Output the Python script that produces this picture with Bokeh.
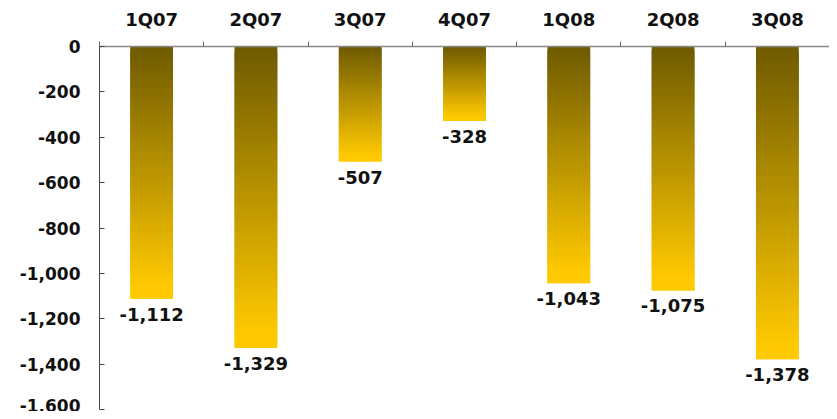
import numpy as np
from bokeh.plotting import figure
from bokeh.models import FixedTicker, NumeralTickFormatter, Range1d, ColumnDataSource
from bokeh.core.properties import value
from bokeh.embed import file_html
from bokeh.resources import INLINE

categories = ["1Q07", "2Q07", "3Q07", "4Q07", "1Q08", "2Q08", "3Q08"]
values = [-1112, -1329, -507, -328, -1043, -1075, -1378]
value_labels = ["-1,112", "-1,329", "-507", "-328", "-1,043", "-1,075", "-1,378"]
y_ticks = [0, -200, -400, -600, -800, -1000, -1200, -1400, -1600]

top_color = np.array([0x6e, 0x5a, 0x00])
bottom_color = np.array([0xff, 0xc9, 0x00])
FONT = "DejaVu Sans"
N = 60
bar_w = 0.41

p = figure(width=829, height=411, output_backend="svg", toolbar_location=None,
           x_range=Range1d(0, len(categories)), y_range=Range1d(-1600, 0),
           x_axis_location="above", min_border_left=99, min_border_right=0,
           min_border_top=46, min_border_bottom=2)
p.outline_line_color = None
p.grid.visible = False

# gradient bars built from thin overlapping strips
lefts, rights, tops, bottoms, colors = [], [], [], [], []
for i, v in enumerate(values):
    cx = i + 0.5
    for k in range(N):
        c = top_color + (bottom_color - top_color) * min(1.0, (k + 0.5) / N * 1.05)
        lefts.append(cx - bar_w / 2)
        rights.append(cx + bar_w / 2)
        tops.append(v * k / N)
        bottoms.append(v * min(k + 2.0, N) / N)
        colors.append("#%02x%02x%02x" % tuple(int(round(x)) for x in c))
src = ColumnDataSource(dict(left=lefts, right=rights, top=tops, bottom=bottoms, color=colors))
p.quad(left="left", right="right", top="top", bottom="bottom", fill_color="color",
       line_color=None, source=src)

lsrc = ColumnDataSource(dict(x=[i + 0.5 for i in range(len(values))], y=values, t=value_labels))
p.text(x="x", y="y", text="t", source=lsrc, text_align="center", text_baseline="top",
       y_offset=9, text_font=value(FONT), text_font_style="bold", text_font_size="18px",
       text_color="#111111")

# x axis (top)
xa = p.xaxis[0]
xa.ticker = FixedTicker(ticks=[i + 0.5 for i in range(len(categories))],
                        minor_ticks=list(range(len(categories) + 1)))
xa.major_label_overrides = {i + 0.5: c for i, c in enumerate(categories)}
xa.major_tick_line_color = None
xa.major_tick_in = 0
xa.major_tick_out = 0
xa.minor_tick_in = 0
xa.minor_tick_out = 5
xa.minor_tick_line_color = "#666666"
xa.axis_line_color = "#888888"
xa.axis_line_width = 1.5
xa.major_label_text_font = FONT
xa.major_label_text_font_style = "bold"
xa.major_label_text_font_size = "18px"
xa.major_label_text_color = "#111111"
xa.major_label_standoff = 12

# y axis
ya = p.yaxis[0]
ya.ticker = FixedTicker(ticks=y_ticks)
ya.formatter = NumeralTickFormatter(format="0,0")
ya.major_tick_in = 5
ya.major_tick_out = 0
ya.minor_tick_line_color = None
ya.axis_line_color = "#444444"
ya.major_tick_line_color = "#444444"
ya.major_label_text_font = FONT
ya.major_label_text_font_style = "bold"
ya.major_label_text_font_size = "17px"
ya.major_label_text_color = "#111111"
ya.major_label_standoff = 19

open("out.html", "w").write(file_html(p, INLINE))
